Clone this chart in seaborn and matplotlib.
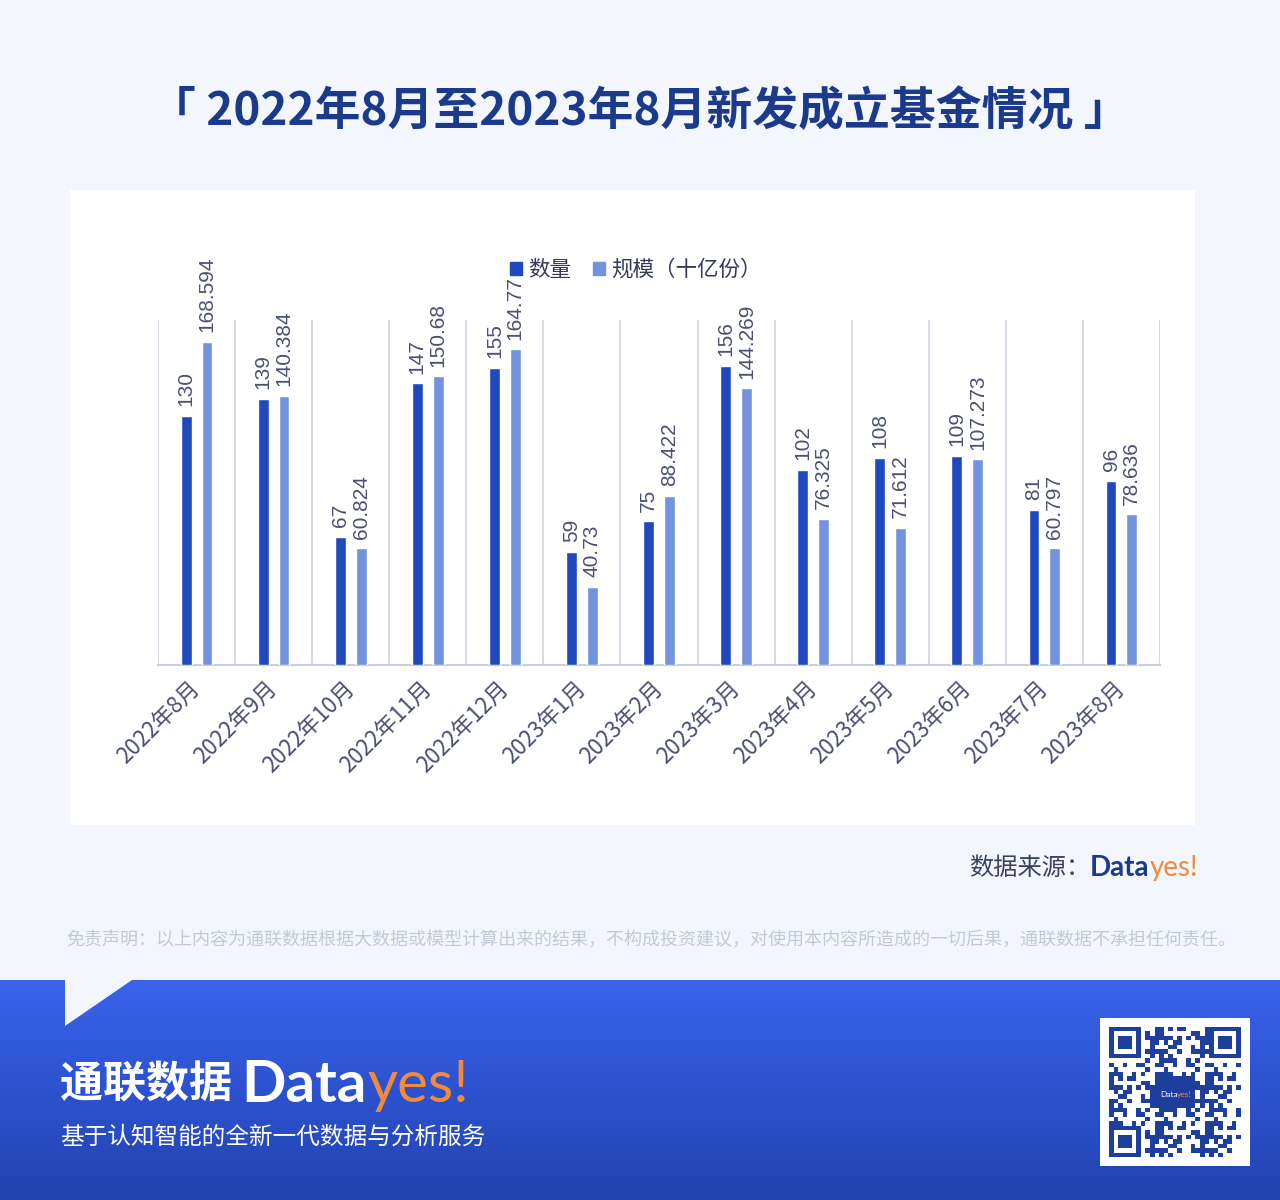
import numpy as np
import pandas as pd
import matplotlib
matplotlib.use("Agg")
import matplotlib.pyplot as plt
import seaborn as sns
from matplotlib.patches import Rectangle, Polygon
from matplotlib.colors import LinearSegmentedColormap

# 数据
months = ["2022年8月", "2022年9月", "2022年10月", "2022年11月", "2022年12月",
          "2023年1月", "2023年2月", "2023年3月", "2023年4月", "2023年5月",
          "2023年6月", "2023年7月", "2023年8月"]
count = [130, 139, 67, 147, 155, 59, 75, 156, 102, 108, 109, 81, 96]
scale = [168.594, 140.384, 60.824, 150.68, 164.77, 40.73, 88.422,
         144.269, 76.325, 71.612, 107.273, 60.797, 78.636]
series = ["数量", "规模（十亿份）"]

BG = "#F3F7FD"
DARK = "#2049BD"
LIGHT = "#7393DE"
NAVY = "#1B3A8C"
TXT = "#4A5070"
ORANGE = "#F08A3C"

sns.set_theme(style="white")
plt.rcParams["font.family"] = ["Noto Sans CJK SC", "DejaVu Sans"]

W, H = 1280, 1200
fig = plt.figure(figsize=(12.8, 12.0), dpi=100, facecolor=BG)


def fx(px):
    return px / W


def fy(py):
    return 1 - py / H


# 白色图表底板
fig.add_artist(Rectangle((fx(70), fy(825)), fx(1125), 635 / H,
                         transform=fig.transFigure, facecolor="white",
                         edgecolor="none", zorder=0))

df = pd.DataFrame({
    "月份": months * 2,
    "值": count + scale,
    "系列": [series[0]] * len(months) + [series[1]] * len(months),
})

ax = fig.add_axes([fx(158), fy(665), fx(1160 - 158), 345 / H])
ax.set_facecolor("none")
sns.barplot(data=df, x="月份", y="值", hue="系列", order=months,
            hue_order=series, palette=[DARK, LIGHT], width=0.54, gap=0.48,
            saturation=1, ax=ax, legend=False, zorder=3)
ax.set_ylim(0, 180)
ax.set_xlim(-0.5, len(months) - 0.5)
ax.vlines(np.arange(-0.5, len(months), 1), 0, 180, color="#D3D8E3",
          lw=1.3, zorder=1)
for s in ["top", "left", "right"]:
    ax.spines[s].set_visible(False)
ax.spines["bottom"].set_color("#C9CFDC")
ax.spines["bottom"].set_linewidth(1.5)
ax.set_yticks([])
ax.set_xlabel("")
ax.set_ylabel("")
ax.tick_params(axis="x", length=0, pad=14)
ax.set_xticks(range(len(months)))
ax.set_xticklabels(months, rotation=45, ha="right", va="center",
                   rotation_mode="anchor", fontsize=16, color=TXT)

# 数值标签
off = 0.135
for i, (c, s) in enumerate(zip(count, scale)):
    ax.text(i - off, c + 5, f"{c:g}", rotation=90, ha="center", va="bottom",
            fontsize=15, color=TXT, family=["Liberation Sans", "DejaVu Sans"])
    ax.text(i + off, s + 5, f"{s:g}", rotation=90, ha="center", va="bottom",
            fontsize=15, color=TXT, family=["Liberation Sans", "DejaVu Sans"],
            clip_on=False)

# 图例
handles = [Rectangle((0, 0), 1, 1, color=DARK), Rectangle((0, 0), 1, 1, color=LIGHT)]
leg = fig.legend(handles, series, loc="center", bbox_to_anchor=(fx(636), fy(270)),
                 ncol=2, frameon=False, handlelength=0.55, handleheight=0.55,
                 handletextpad=0.3, columnspacing=1.0, fontsize=15.5)
for t in leg.get_texts():
    t.set_color("#333A58")

# 标题
fig.text(0.5, fy(112), "「 2022年8月至2023年8月新发成立基金情况 」", ha="center",
         va="center", fontsize=33, fontweight="bold", color=NAVY)


def chain(x0, y, parts, ha="left"):
    """从左到右依次放置多段文字"""
    fig.canvas.draw()
    r = fig.canvas.get_renderer()
    texts = []
    x = x0
    for s, kw in parts:
        t = fig.text(fx(x), fy(y), s, ha="left", va="center", **kw)
        w = t.get_window_extent(renderer=r).width
        texts.append(t)
        x += w
    if ha == "right":
        shift = x - x0
        for t in texts:
            px, py = t.get_position()
            t.set_position((px - fx(shift), py))
    return texts


# 数据来源
chain(1198, 868, [
    ("数据来源：", dict(fontsize=17.5, color="#3A4260")),
    ("Data", dict(fontsize=20, color=NAVY, fontweight="bold",
                  family=["Lato", "DejaVu Sans"])),
    ("yes!", dict(fontsize=20, color=ORANGE, family=["Lato", "DejaVu Sans"])),
], ha="right")

# 免责声明
fig.text(fx(66), fy(940), "免责声明：以上内容为通联数据根据大数据或模型计算出来的结果，不构成投资建议，"
         "对使用本内容所造成的一切后果，通联数据不承担任何责任。",
         ha="left", va="center", fontsize=13, color="#C3C9D6")

# 底部蓝色横幅（渐变）
bax = fig.add_axes([0, 0, 1, 220 / H])
cmap = LinearSegmentedColormap.from_list("band", ["#3A63EC", "#2C52CF", "#2243AE"])
grad = np.linspace(0, 1, 256).reshape(-1, 1)
bax.imshow(grad, aspect="auto", cmap=cmap, extent=[0, 1, 0, 1], origin="upper")
bax.set_axis_off()
fig.add_artist(Polygon([[fx(65), fy(980)], [fx(132), fy(980)], [fx(65), fy(1026)]],
                       closed=True, transform=fig.transFigure,
                       facecolor=BG, edgecolor="none", zorder=5))

chain(60, 1085, [
    ("通联数据 ", dict(fontsize=31, color="white", fontweight="bold")),
    ("Data", dict(fontsize=42, color="white", fontweight="bold",
                  family=["Lato", "DejaVu Sans"])),
    ("yes!", dict(fontsize=42, color=ORANGE, family=["Lato", "DejaVu Sans"])),
])
fig.text(fx(60), fy(1137), "基于认知智能的全新一代数据与分析服务", ha="left",
         va="center", fontsize=17, color="white")

# 二维码示意
qax = fig.add_axes([fx(1100), fy(1166), fx(150), 148 / H])
n = 29
ii, jj = np.meshgrid(np.arange(n), np.arange(n), indexing="ij")
qr = (((ii * ii * 3 + jj * jj * 5 + ii * jj * 7 + ii + 2 * jj) % 11) < 5).astype(float)
for (r0, c0) in [(0, 0), (0, n - 7), (n - 7, 0)]:
    qr[r0:r0 + 8, c0:c0 + 8 if c0 == 0 else c0 + 7] = 0
    qr[r0:r0 + 7, c0:c0 + 7] = 1
    qr[r0 + 1:r0 + 6, c0 + 1:c0 + 6] = 0
    qr[r0 + 2:r0 + 5, c0 + 2:c0 + 5] = 1
qr[11:18, 10:19] = 1
pad = np.zeros((n + 4, n + 4))
pad[2:-2, 2:-2] = qr
qax.imshow(pad, cmap=LinearSegmentedColormap.from_list("qr", ["white", "#1E3E9E"]),
           interpolation="nearest", aspect="auto")
qax.text(n / 2 + 2, n / 2 + 2, "Data", ha="right", va="center", fontsize=6,
         color="white", family=["Lato", "DejaVu Sans"])
qax.text(n / 2 + 2, n / 2 + 2, "yes!", ha="left", va="center", fontsize=6,
         color=ORANGE, family=["Lato", "DejaVu Sans"])
qax.set_axis_off()

fig.savefig("out.png", dpi=100, facecolor=BG)
